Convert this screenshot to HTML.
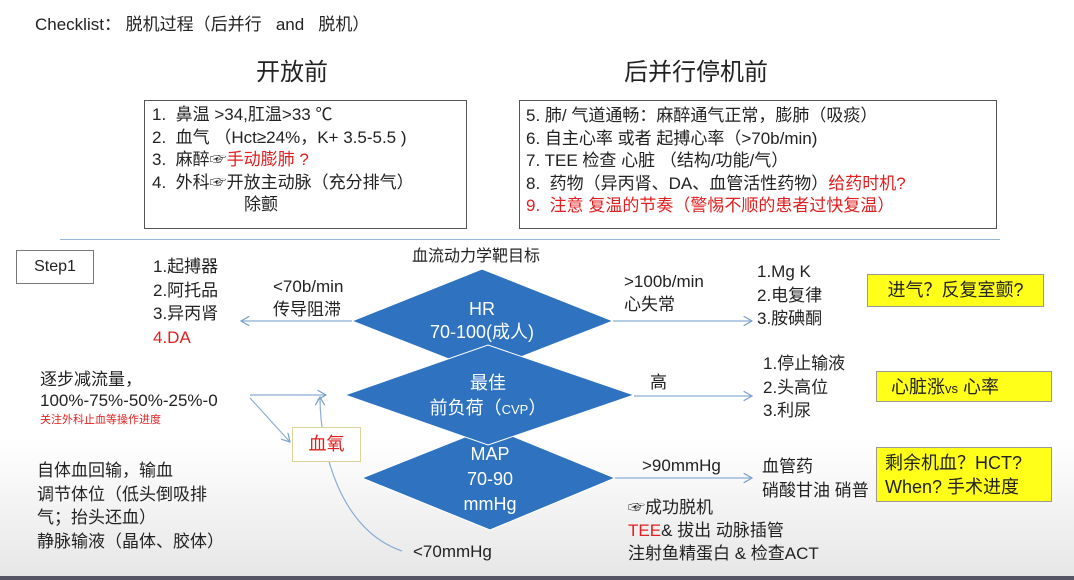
<!DOCTYPE html>
<html><head><meta charset="utf-8"><style>
body{margin:0;width:1074px;height:580px;overflow:hidden;background:#fff;font-family:"Liberation Sans","Noto Sans CJK SC",sans-serif;color:#222;}
.t{position:absolute;white-space:nowrap;font-size:17px;line-height:22px;}
.box{position:absolute;border:1px solid #555;}
.y{position:absolute;background:#ffff1a;border:1px solid #999;font-size:18px;}
.r{color:#e02020;}
</style></head><body>
<div style="position:absolute;left:0;top:440px;width:1074px;height:140px;background:linear-gradient(#fff,#e6e6e6);"></div>
<div style="position:absolute;left:0;top:576px;width:1074px;height:4px;background:#556;"></div>
<div class="t" style="left:35px;top:14px;font-size:17px;">Checklist： 脱机过程（后并行&nbsp;&nbsp; and &nbsp;&nbsp;脱机）</div>
<div class="t" style="left:256px;top:59px;font-size:24px;line-height:28px;">开放前</div>
<div class="t" style="left:624px;top:59px;font-size:24px;line-height:28px;">后并行停机前</div>
<div class="box" style="left:144px;top:100px;width:321px;height:127px;"></div>
<div class="t" style="left:152px;top:104px;line-height:22.5px;">1.&nbsp; 鼻温 &gt;34,肛温&gt;33 ℃<br>2.&nbsp; 血气 （Hct≥24%，K+ 3.5-5.5 )<br>3.&nbsp; 麻醉☞<span class="r">手动膨肺 ?</span><br>4.&nbsp; 外科☞开放主动脉（充分排气）<br><span style="padding-left:92px">除颤</span></div>
<div class="box" style="left:519px;top:100px;width:476px;height:127px;"></div>
<div class="t" style="left:526px;top:105px;line-height:22.5px;">5. 肺/ 气道通畅：麻醉通气正常，膨肺（吸痰）<br>6. 自主心率 或者 起搏心率（&gt;70b/min)<br>7. TEE 检查 心脏 （结构/功能/气）<br>8.&nbsp; 药物（异丙肾、DA、血管活性药物）<span class="r">给药时机?</span><br><span class="r">9.&nbsp; 注意 复温的节奏（警惕不顺的患者过快复温）</span></div>
<div style="position:absolute;left:60px;top:239px;width:940px;height:1px;background:#9ab8d8;"></div>
<div class="box" style="left:16px;top:250px;width:76px;height:32px;font-size:16px;line-height:32px;text-align:center;border-color:#777;">Step1</div>
<div class="t" style="left:412px;top:246px;font-size:16px;">血流动力学靶目标</div>
<svg style="position:absolute;left:0;top:0" width="1074" height="580">
<defs><marker id="a" markerWidth="8" markerHeight="8" refX="7" refY="4" orient="auto"><path d="M0,0 L7,4 L0,8" fill="none" stroke="#7aa0cc" stroke-width="1"/></marker></defs>
<g fill="#2e72c0" stroke="#fff" stroke-width="1">
<polygon points="352,321 482,269 613,321 482,372"/>
<polygon points="362,478 490,427 615,478 490,530"/>
<polygon points="345,395 488,345 634,395 488,445"/>
</g>
<g stroke="#8aaed4" stroke-width="1.2" fill="none" marker-end="url(#a)">
<line x1="352" y1="321" x2="241" y2="321"/>
<line x1="613" y1="321" x2="752" y2="321"/>
<line x1="634" y1="396" x2="752" y2="396"/>
<line x1="615" y1="478" x2="752" y2="478"/>
<line x1="250" y1="395" x2="326" y2="395"/>
<line x1="250" y1="398" x2="290" y2="442"/>
<path d="M402,551 C340,530 320,450 320,397"/>
</g>
<g fill="#fff" font-family="Liberation Sans,Noto Sans CJK SC,sans-serif" font-size="18" text-anchor="middle">
<text x="482" y="315">HR</text><text x="482" y="338">70-100(成人)</text>
<text x="488" y="389">最佳</text><text x="488" y="414">前负荷（<tspan font-size="13">CVP</tspan>）</text>
<text x="490" y="460">MAP</text><text x="490" y="485">70-90</text><text x="490" y="510">mmHg</text>
</g>
</svg>
<div class="t" style="left:153px;top:255px;line-height:23.5px;">1.起搏器<br>2.阿托品<br>3.异丙肾<br><span class="r">4.DA</span></div>
<div class="t" style="left:273px;top:275px;line-height:23px;">&lt;70b/min<br>传导阻滞</div>
<div class="t" style="left:40px;top:369px;line-height:21px;">逐步减流量，<br>100%-75%-50%-25%-0</div>
<div class="t r" style="left:40px;top:413px;font-size:11px;line-height:14px;">关注外科止血等操作进度</div>
<div style="position:absolute;left:292px;top:427px;width:67px;height:33px;border:1px solid #dcd39a;background:#fff;color:#e02020;font-size:18px;line-height:33px;text-align:center;">血氧</div>
<div class="t" style="left:37px;top:459px;line-height:23.5px;">自体血回输，输血<br>调节体位（低头倒吸排<br>气；抬头还血）<br>静脉输液（晶体、胶体）</div>
<div class="t" style="left:413px;top:541px;">&lt;70mmHg</div>
<div class="t" style="left:624px;top:270px;line-height:23px;">&gt;100b/min<br>心失常</div>
<div class="t" style="left:757px;top:260px;line-height:23.5px;">1.Mg K<br>2.电复律<br>3.胺碘酮</div>
<div class="y" style="left:867px;top:274px;width:175px;height:31px;line-height:31px;text-align:center;">进气？反复室颤?</div>
<div class="t" style="left:650px;top:372px;">高</div>
<div class="t" style="left:763px;top:352px;line-height:23.5px;">1.停止输液<br>2.头高位<br>3.利尿</div>
<div class="y" style="left:876px;top:371px;width:176px;height:31px;line-height:31px;padding-left:14px;box-sizing:border-box;">心脏涨<span style="font-size:13px">vs</span> 心率</div>
<div class="t" style="left:642px;top:455px;">&gt;90mmHg</div>
<div class="t" style="left:762px;top:455px;line-height:24px;">血管药<br>硝酸甘油 硝普</div>
<div class="y" style="left:876px;top:447px;width:176px;height:55px;line-height:24px;padding:3px 0 0 8px;box-sizing:border-box;">剩余机血？HCT?<br>When? 手术进度</div>
<div class="t" style="left:628px;top:496px;line-height:23px;">☞成功脱机<br><span class="r">TEE</span>&amp; 拔出 动脉插管<br>注射鱼精蛋白 &amp; 检查ACT</div>
</body></html>
